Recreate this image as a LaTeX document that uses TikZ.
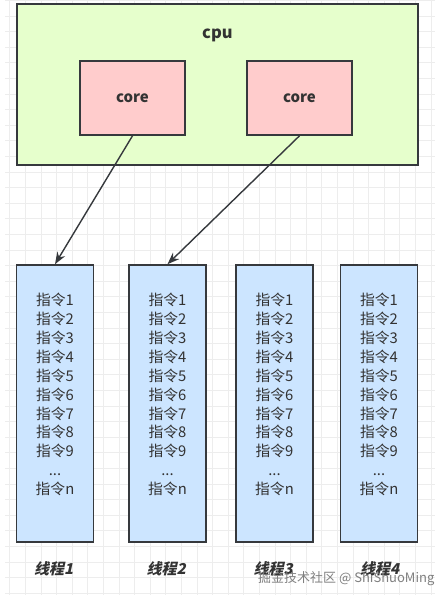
\documentclass[tikz,border=0pt]{standalone}
\usepackage{fontspec}
\setmainfont{Noto Sans CJK SC}
\newfontfamily\cjk{Noto Sans CJK SC}
\usetikzlibrary{arrows.meta}
\definecolor{strokec}{HTML}{36393D}
\definecolor{cpufill}{HTML}{E6FFCC}
\definecolor{corefill}{HTML}{FFCCCC}
\definecolor{thrfill}{HTML}{CCE5FF}
\definecolor{txtc}{HTML}{333333}
\definecolor{gridc}{HTML}{EDEDED}
\tikzset{
  boxbase/.style={draw=strokec, line width=1.6pt, inner sep=0pt, text=txtc},
  cpubox/.style={boxbase, fill=cpufill},
  corebox/.style={boxbase, fill=corefill, minimum width=105pt, minimum height=74pt, font=\cjk\bfseries\fontsize{15}{17}\selectfont},
  thrbox/.style={boxbase, fill=thrfill, minimum width=77pt, minimum height=277pt},
  instr/.style={inner sep=0pt, align=center, text=txtc, font=\cjk\fontsize{14.8}{18.9}\selectfont},
  thrlabel/.style={inner sep=0pt, text=txtc, xslant=0.22, font=\cjk\bfseries\fontsize{15}{17}\selectfont},
  link/.style={draw=strokec, line width=1.4pt, -{Stealth[length=12pt,width=9pt]}},
  wmark/.style={inner sep=0pt, text=black!50, font=\cjk\fontsize{13}{15}\selectfont}
}
\begin{document}
\begin{tikzpicture}[x=1pt,y=-1pt]
\useasboundingbox (0,0) rectangle (445,599);
\fill[white] (0,0) rectangle (445,599);
% grid
\foreach \k in {0,...,27} {\draw[gridc, line width=0.7pt] (9.8+15.6*\k,0) -- (9.8+15.6*\k,595);}
\foreach \k in {0,...,38} {\draw[gridc, line width=0.7pt] (5,0.4+15.6*\k) -- (435,0.4+15.6*\k);}
% cpu
\node[cpubox, minimum width=401pt, minimum height=161pt] (cpu) at (217.5,84.5) {};
\node[inner sep=0pt, text=txtc, font=\cjk\bfseries\fontsize{16.5}{18}\selectfont] (cpulabel) at (217.5,35) {cpu};
\node[corebox] (c1) at (132.5,98) {core};
\node[corebox] (c2) at (299.5,98) {core};
% threads
\def\instrtext{指令1\\指令2\\指令3\\指令4\\指令5\\指令6\\指令7\\指令8\\指令9\\...\\指令n}
\node[thrbox] (t1) at (55,403.5) {};
\node[thrbox] (t2) at (167.5,403.5) {};
\node[thrbox] (t3) at (274.5,403.5) {};
\node[thrbox] (t4) at (379,403.5) {};
\node[instr] (i1) at (55,394.5) {\instrtext};
\node[instr] (i2) at (167.5,394.5) {\instrtext};
\node[instr] (i3) at (274.5,394.5) {\instrtext};
\node[instr] (i4) at (379,394.5) {\instrtext};
% labels
\node[thrlabel] (l1) at (55,569) {线程1};
\node[thrlabel] (l2) at (167.5,569) {线程2};
\node[thrlabel] (l3) at (274.5,569) {线程3};
\node[thrlabel] (l4) at (381,569) {线程4};
% arrows
\draw[link] (c1.south) -- (t1.north);
\draw[link] (c2.south) -- (t2.north);
% watermark
\node[wmark, anchor=west] (wm) at (258,579) {掘金技术社区 @ ShiShuoMing};
\end{tikzpicture}
\end{document}
